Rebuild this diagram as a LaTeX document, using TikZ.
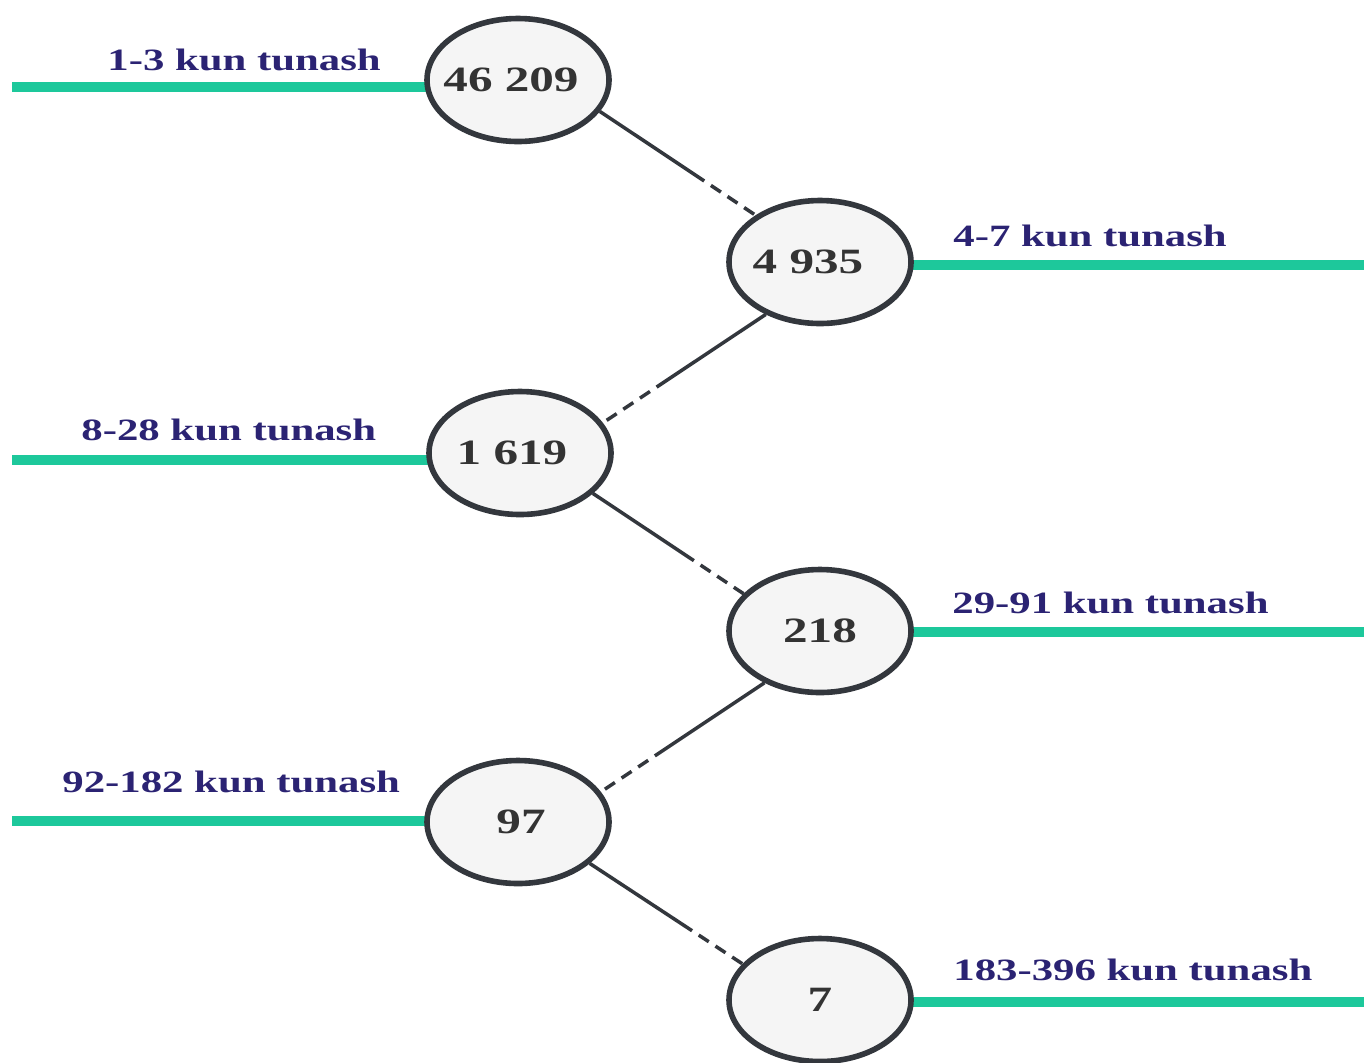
\documentclass[tikz,border=0pt]{standalone}
\usepackage{fontspec}
\setmainfont{Liberation Serif}
\newfontfamily\stretchfont[FakeStretch=1.38]{Liberation Serif}
\usetikzlibrary{shapes.geometric,backgrounds,calc}
\definecolor{labblue}{HTML}{2B2373}
\definecolor{numgray}{HTML}{333333}
\definecolor{ringgray}{HTML}{33373D}
\definecolor{bubfill}{HTML}{F5F5F5}
\definecolor{bargreen}{HTML}{1DC89B}
\begin{document}
\begin{tikzpicture}[x=0.5pt,y=-0.5pt,
 bub/.style={ellipse,draw=ringgray,fill=bubfill,line width=2.8pt,minimum width=91pt,minimum height=61.5pt,inner sep=0pt},
 num/.style={font=\stretchfont\bfseries\fontsize{17.8}{20}\selectfont,text=numgray,inner sep=0pt},
 lab/.style={font=\stretchfont\bfseries\fontsize{15.5}{18}\selectfont,text=labblue,inner sep=0pt,anchor=base west},
 bar/.style={draw=bargreen,line width=5pt},
 link/.style={draw=ringgray,line width=1.75pt},
 linkdash/.style={link,dash pattern=on 6pt off 4pt,dash phase=6pt}]
\clip (0,0) rectangle (1364,1062);
\useasboundingbox (0,0) rectangle (1364,1062);

% bubbles
\node[bub] (n1) at (518,80) {};
\node[bub] (n2) at (820,262) {};
\node[bub] (n3) at (520,453) {};
\node[bub] (n4) at (820,631) {};
\node[bub] (n5) at (518,822) {};
\node[bub] (n6) at (820,1000) {};

% numbers
\node[num,xshift=-3.5pt] (t1) at (n1) {46 209};
\node[num,xshift=-6pt] (t2) at (n2) {4 935};
\node[num,xshift=-4pt] (t3) at (n3) {1 619};
\node[num] (t4) at (n4) {218};
\node[num,xshift=1.5pt] (t5) at (n5) {97};
\node[num] (t6) at (n6) {7};

% green bars
\coordinate (g1) at (12,87);
\coordinate (g2) at (1364,265);
\coordinate (g3) at (12,460);
\coordinate (g4) at (1364,632);
\coordinate (g5) at (12,821);
\coordinate (g6) at (1364,1002);
\begin{scope}[on background layer]
\fill[white] (0,0) rectangle (1364,1062);
\draw[bar] (g1) -- (g1 -| n1.center);
\draw[bar] (n2.center |- g2) -- (g2);
\draw[bar] (g3) -- (g3 -| n3.center);
\draw[bar] (n4.center |- g4) -- (g4);
\draw[bar] (g5) -- (g5 -| n5.center);
\draw[bar] (n6.center |- g6) -- (g6);
\end{scope}

% labels
\node[lab] (l1) at (107,70) {1-3 kun tunash};
\node[lab] (l2) at (953,246) {4-7 kun tunash};
\node[lab] (l3) at (81,440) {8-28 kun tunash};
\node[lab] (l4) at (952,613) {29-91 kun tunash};
\node[lab] (l5) at (62,792) {92-182 kun tunash};
\node[lab] (l6) at (953,980) {183-396 kun tunash};

% connectors
\coordinate (m12) at ($(n1.-21)!0.67!(n2.144)$);
\draw[link] (n1.-21) -- (m12);
\draw[linkdash] (m12) -- (n2.144);
\coordinate (m23) at ($(n2.224)!0.67!(n3.20)$);
\draw[link] (n2.224) -- (m23);
\draw[linkdash] (m23) -- (n3.20);
\coordinate (m34) at ($(n3.-29)!0.67!(n4.154)$);
\draw[link] (n3.-29) -- (m34);
\draw[linkdash] (m34) -- (n4.154);
\coordinate (m45) at ($(n4.223)!0.67!(n5.20)$);
\draw[link] (n4.223) -- (m45);
\draw[linkdash] (m45) -- (n5.20);
\coordinate (m56) at ($(n5.-30)!0.67!(n6.155)$);
\draw[link] (n5.-30) -- (m56);
\draw[linkdash] (m56) -- (n6.155);
\end{tikzpicture}
\end{document}
